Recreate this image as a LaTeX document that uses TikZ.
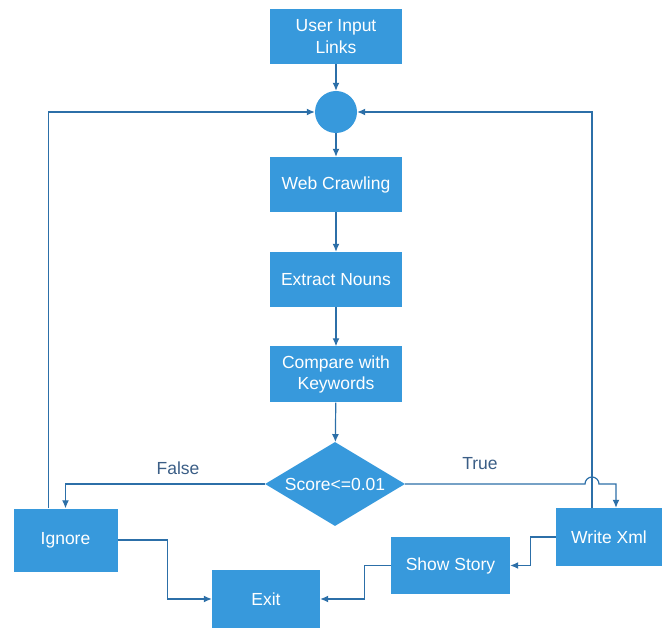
\documentclass[tikz,border=0pt]{standalone}
\usepackage{fontspec}
\setmainfont{Liberation Sans}
\usetikzlibrary{shapes.geometric,arrows.meta,calc}
\definecolor{boxblue}{HTML}{3799DC}
\definecolor{lineblue}{HTML}{2C6FA8}
\definecolor{labblue}{HTML}{3B5E86}
\tikzset{
  stepbox/.style={fill=boxblue, draw=none, text=white, inner sep=0pt, align=center,
    font=\fontsize{17.5}{21.5}\selectfont},
  conn/.style={draw=lineblue, line width=1.2pt, -{Latex[length=8pt,width=7pt]}},
  lab/.style={text=labblue, font=\fontsize{17.5}{21}\selectfont}
}
\begin{document}
\begin{tikzpicture}[x=1pt,y=-1pt]
\useasboundingbox (0,0) rectangle (662,628);
\node[stepbox, minimum width=132pt, minimum height=55pt] (inp) at (336,36.5) {User Input\\Links};
\node[circle, fill=boxblue, minimum size=42pt, inner sep=0pt] (hub) at (336,112) {};
\node[stepbox, minimum width=132pt, minimum height=55pt] (web) at (336,184.5) {Web Crawling};
\node[stepbox, minimum width=132pt, minimum height=55pt] (ext) at (336,279.5) {Extract Nouns};
\node[stepbox, minimum width=132pt, minimum height=56pt] (cmp) at (336,374.5) {Compare with\\Keywords};
\node[stepbox, diamond, aspect=1.667, minimum width=140pt, minimum height=84pt] (dia) at (335,484) {Score<=0.01};
\node[stepbox, minimum width=104pt, minimum height=63pt] (ign) at (65.5,540) {Ignore};
\node[stepbox, minimum width=108pt, minimum height=58pt] (exit) at (266,599) {Exit};
\node[stepbox, minimum width=119pt, minimum height=57pt] (show) at (450.5,565.5) {Show Story};
\node[stepbox, minimum width=106pt, minimum height=58pt] (wx) at (609,537) {Write Xml};

\node[lab] (flab) at (178,468) {False};
\node[lab] (tlab) at (480,464) {True};

\draw[conn] (inp) -- (hub);
\draw[conn] (hub) -- (web);
\draw[conn] (web) -- (ext);
\draw[conn] (ext) -- (cmp);
\draw[conn] (cmp) -- (dia);

\coordinate (iup) at ([xshift=-17pt]ign.north);
\coordinate (wup) at ([xshift=-17pt]wx.north);
\coordinate (wdn) at ([xshift=7pt]wx.north);
\coordinate (jmp) at (dia.east -| wup);

\draw[conn] (iup) |- (hub.west);
\draw[conn] (wup) |- (hub.east);

\draw[conn] (dia.west) -| (ign.north);
\draw[conn] (dia.east) -- ([xshift=-7pt]jmp) arc[start angle=180, end angle=0, radius=7pt] -- (dia.east -| wdn) -- (wdn);

\draw[conn] (ign.east) -- ++(50,0) |- (exit.west);
\draw[conn] (wx.west) -- ++(-25,0) |- (show.east);
\draw[conn] (show.west) -- ++(-26,0) |- (exit.east);
\end{tikzpicture}
\end{document}
